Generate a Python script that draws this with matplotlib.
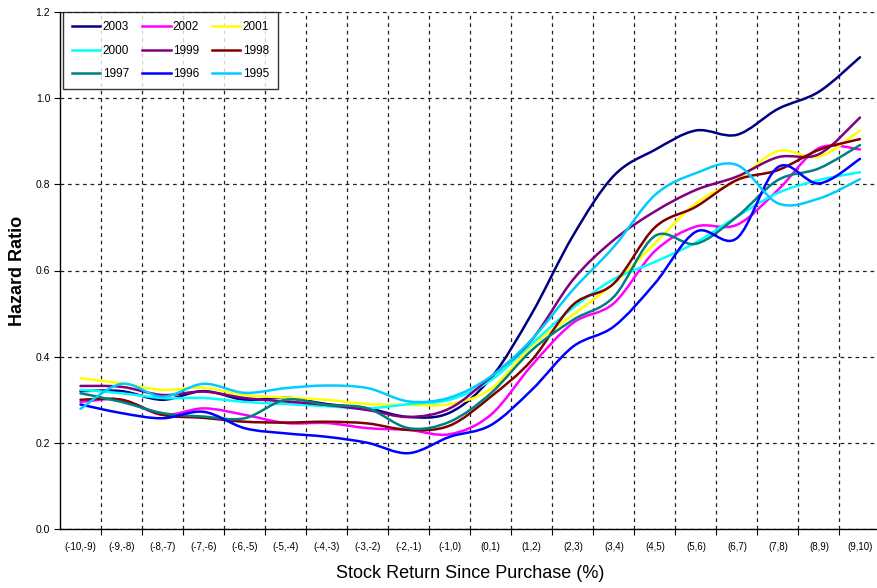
import matplotlib
matplotlib.use("Agg")
import matplotlib.pyplot as plt
from matplotlib.path import Path
from matplotlib.patches import PathPatch
from matplotlib.lines import Line2D
import numpy as np

plt.rcParams['font.family'] = ['Liberation Sans', 'DejaVu Sans']

categories = ["(-10,-9)", "(-9,-8)", "(-8,-7)", "(-7,-6)", "(-6,-5)", "(-5,-4)",
              "(-4,-3)", "(-3,-2)", "(-2,-1)", "(-1,0)", "(0,1)", "(1,2)", "(2,3)",
              "(3,4)", "(4,5)", "(5,6)", "(6,7)", "(7,8)", "(8,9)", "(9,10)"]

y2003 = [0.32, 0.32, 0.30, 0.32, 0.30, 0.305, 0.29, 0.28, 0.26, 0.27,
         0.35, 0.50, 0.68, 0.82, 0.88, 0.925, 0.915, 0.975, 1.015, 1.095]
y2002 = [0.295, 0.30, 0.265, 0.28, 0.265, 0.246, 0.246, 0.234, 0.23, 0.22,
         0.265, 0.38, 0.478, 0.524, 0.645, 0.702, 0.706, 0.787, 0.884, 0.881]
y2001 = [0.35, 0.338, 0.323, 0.328, 0.311, 0.305, 0.30, 0.29, 0.288, 0.29,
         0.325, 0.425, 0.497, 0.57, 0.663, 0.756, 0.81, 0.877, 0.864, 0.925]
y2000 = [0.323, 0.315, 0.304, 0.304, 0.295, 0.29, 0.285, 0.28, 0.29, 0.30,
         0.345, 0.43, 0.513, 0.58, 0.62, 0.665, 0.725, 0.78, 0.81, 0.828]
y1999 = [0.332, 0.33, 0.311, 0.319, 0.304, 0.296, 0.288, 0.276, 0.26, 0.28,
         0.353, 0.439, 0.578, 0.671, 0.737, 0.787, 0.818, 0.863, 0.87, 0.955]
y1998 = [0.30, 0.30, 0.265, 0.258, 0.249, 0.247, 0.249, 0.245, 0.23, 0.24,
         0.307, 0.392, 0.52, 0.57, 0.70, 0.748, 0.81, 0.833, 0.88, 0.905]
y1997 = [0.315, 0.295, 0.269, 0.261, 0.257, 0.30, 0.288, 0.28, 0.234, 0.249,
         0.315, 0.415, 0.485, 0.539, 0.68, 0.662, 0.725, 0.81, 0.837, 0.891]
y1996 = [0.289, 0.269, 0.257, 0.272, 0.234, 0.222, 0.214, 0.20, 0.176, 0.214,
         0.241, 0.323, 0.423, 0.47, 0.57, 0.69, 0.675, 0.84, 0.802, 0.859]
y1995 = [0.279, 0.337, 0.307, 0.337, 0.316, 0.327, 0.333, 0.327, 0.296, 0.305,
         0.354, 0.44, 0.555, 0.655, 0.775, 0.826, 0.845, 0.756, 0.767, 0.812]

series_names = ["2003", "2002", "2001", "2000", "1999", "1998", "1997", "1996", "1995"]
series_values = [y2003, y2002, y2001, y2000, y1999, y1998, y1997, y1996, y1995]
series_colors = ["#000080", "#FF00FF", "#FFFF00", "#00FFFF", "#800080",
                 "#800000", "#008080", "#0000FF", "#00CCFF"]


def smooth_path(xs, ys):
    """Cubic Bezier path through the points (Catmull-Rom style tangents)."""
    pts = np.column_stack([xs, ys]).astype(float)
    n = len(pts)
    verts = [pts[0]]
    codes = [Path.MOVETO]
    for i in range(n - 1):
        p0 = pts[i - 1] if i > 0 else pts[i]
        p1 = pts[i]
        p2 = pts[i + 1]
        p3 = pts[i + 2] if i + 2 < n else pts[i + 1]
        c1 = p1 + (p2 - p0) / 6.0
        c2 = p2 - (p3 - p1) / 6.0
        verts += [c1, c2, p2]
        codes += [Path.CURVE4] * 3
    return Path(verts, codes)


W, H = 877, 588
fig = plt.figure(figsize=(W / 100, H / 100), dpi=100)
ax = fig.add_axes([60 / W, (H - 529) / H, 820.5 / W, 517 / H])

x = np.arange(len(categories))
for name, vals, col in zip(series_names, series_values, series_colors):
    patch = PathPatch(smooth_path(x, vals), facecolor='none', edgecolor=col,
                      linewidth=1.8, capstyle='round', joinstyle='round', zorder=3)
    ax.add_patch(patch)

ax.set_xlim(-0.5, len(categories) - 0.5)
ax.set_ylim(0, 1.2)

# category labels at centres, grid at category boundaries
ax.set_xticks(x)
ax.set_xticklabels(categories, fontsize=7)
ax.tick_params(axis='x', length=0, pad=9)
ax.set_xticks(np.arange(0.5, len(categories) - 0.5, 1.0), minor=True)
ax.tick_params(axis='x', which='minor', length=4, direction='out', width=0.8)

yt = np.arange(0, 1.21, 0.2)
ax.set_yticks(yt)
ax.set_yticklabels([f"{v:.1f}" for v in yt], fontsize=7.5)
ax.tick_params(axis='y', length=4, width=0.8, pad=3)

ax.grid(True, axis='x', which='minor', color='#222222', linestyle=(0, (3, 3)), linewidth=0.9)
ax.grid(True, axis='y', which='major', color='#222222', linestyle=(0, (3, 3)), linewidth=0.9)
ax.set_axisbelow(True)

for s in ['top', 'right']:
    ax.spines[s].set_visible(False)
ax.spines['left'].set_linewidth(1.0)
ax.spines['bottom'].set_linewidth(1.0)

ax.set_xlabel("Stock Return Since Purchase (%)", fontsize=13, labelpad=10)
ax.set_ylabel("Hazard Ratio", fontsize=13, fontweight='bold', labelpad=7)

handles = [Line2D([0], [0], color=c, linewidth=1.8) for c in series_colors]
# legend fills by column; reorder so rows read 2003/2002/2001, 2000/1999/1998, ...
order = [0, 3, 6, 1, 4, 7, 2, 5, 8]
leg = ax.legend([handles[i] for i in order], [series_names[i] for i in order],
                ncol=3, loc='upper left', bbox_to_anchor=(0.004, 1.0),
                borderaxespad=0, fontsize=8.5, frameon=True, fancybox=False,
                edgecolor='black', handlelength=2.4, handletextpad=0.2,
                columnspacing=1.1, labelspacing=1.0, borderpad=0.75)
leg.get_frame().set_linewidth(1.0)
leg.set_zorder(5)

fig.savefig("out.png", dpi=100)
